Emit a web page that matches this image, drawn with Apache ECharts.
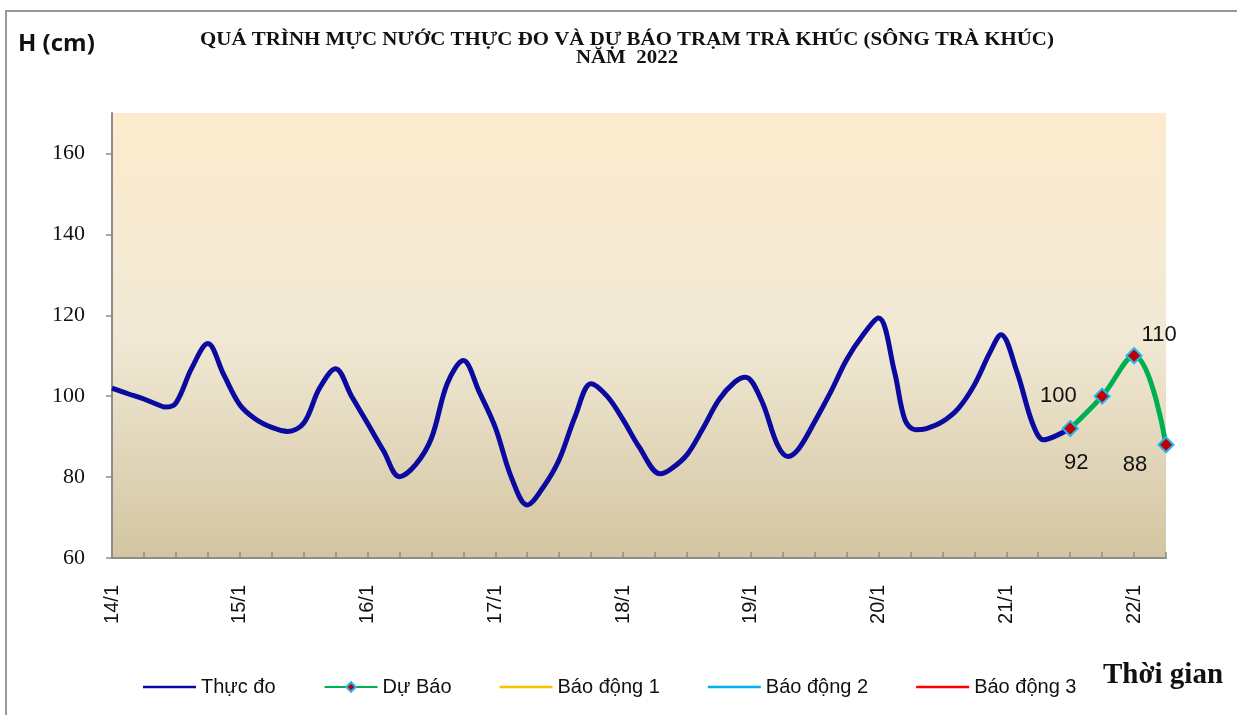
<!DOCTYPE html>
<html>
<head>
<meta charset="utf-8">
<script src="https://cdn.jsdelivr.net/npm/echarts@6/dist/echarts.min.js"></script>
<style>
  html, body { margin: 0; padding: 0; background: #fff; }
  #chart { width: 1237px; height: 715px; }
</style>
</head>
<body>
<div id="chart"></div>
<script>
// gio tinh tu 0h ngay 14/1
var dayLabels = ['14/1', '15/1', '16/1', '17/1', '18/1', '19/1', '20/1', '21/1', '22/1'];
var yTicks = [60, 80, 100, 120, 140, 160];

var obsHours = [0, 3, 6, 9, 10, 12, 15, 18, 21, 24, 27, 30, 33, 36, 39, 42, 45, 48, 51, 54, 57, 60,
  63, 66, 69, 72, 75, 78, 81, 84, 87, 90, 93, 96, 99, 103, 105, 108, 111, 114, 117, 119, 122, 125,
  127, 129, 132, 135, 138, 141, 144, 147, 149, 151, 153, 156, 159, 162, 165, 167, 170, 173, 175, 177, 180];
var obsValues = [102, 100.6, 99.3, 97.7, 97.3, 98.3, 107, 113, 105.3, 97.9, 94.3, 92.3, 91.3, 93.3, 102, 106.8, 100, 93.3, 86.5, 80.1, 83, 89.6,
  103.2, 108.8, 101, 92.3, 80, 73.1, 77.5, 84.3, 95, 103.1, 100, 94.2, 87.5, 80.8, 82, 85.5, 92, 99.1, 103.5, 104.7, 99, 88,
  85.1, 87, 93.7, 101, 109, 115, 119.3, 106, 94, 91.7, 92, 93.7, 97, 102.8, 111, 115.2, 106, 93, 89.2, 90, 92];

var fcHours = [180, 186, 192, 198];
var fcValues = [92, 100, 110, 88];

var titleLines = ['QUÁ TRÌNH MỰC NƯỚC THỰC ĐO VÀ DỰ BÁO TRẠM TRÀ KHÚC (SÔNG TRÀ KHÚC)', 'NĂM  2022'];

var obsData = obsHours.map(function (h, i) { return [h, obsValues[i]]; });
// vi tri nhan du bao
var fcLabels = [
  { position: 'bottom', offset: [6, 10] },
  { position: 'left', offset: [-12, 0] },
  { position: 'right', offset: [-6, -21] },
  { position: 'bottom', offset: [-31, -4] }
];
var fcData = fcHours.map(function (h, i) {
  return { value: [h, fcValues[i]], label: fcLabels[i] };
});

var lineIcon = 'path://M0,0 L53,0 L53,2.5 L0,2.5 Z';
var titleFont = 'bold 19px "Liberation Serif", serif';

var myChart = echarts.init(document.getElementById('chart'));

var option = {
  animation: false,
  graphic: [
    {
      type: 'polyline',
      shape: { points: [[6, 715], [6, 11], [1237, 11]] },
      style: { stroke: '#999', lineWidth: 2, fill: null }
    },
    {
      type: 'text', x: 627, y: 40, scaleX: 1.1,
      style: { text: titleLines[0], font: titleFont, fill: '#111', align: 'center', verticalAlign: 'middle' }
    },
    {
      type: 'text', x: 627, y: 58, scaleX: 1.1,
      style: { text: titleLines[1], font: titleFont, fill: '#111', align: 'center', verticalAlign: 'middle' }
    },
    {
      type: 'text', left: 18, top: 32,
      style: { text: 'H (cm)', font: 'bold 24px "Open Sans", sans-serif', fill: '#111' }
    },
    {
      type: 'text', left: 1103, top: 661,
      style: { text: 'Thời gian', font: 'bold 29px "Liberation Serif", serif', fill: '#111' }
    }
  ],
  legend: {
    left: 138,
    top: 672,
    itemWidth: 53,
    itemHeight: 12,
    itemGap: 48,
    textStyle: { fontFamily: '"Liberation Sans", Arial', fontSize: 20, color: '#111' },
    data: [
      { name: 'Thực đo', icon: lineIcon },
      { name: 'Dự Báo' },
      { name: 'Báo động 1', icon: lineIcon },
      { name: 'Báo động 2', icon: lineIcon },
      { name: 'Báo động 3', icon: lineIcon }
    ]
  },
  grid: {
    left: 112,
    right: 71,
    top: 113,
    bottom: 157,
    show: true,
    borderWidth: 0,
    backgroundColor: new echarts.graphic.LinearGradient(0, 0, 0, 1, [
      { offset: 0, color: '#fdebcd' },
      { offset: 0.5, color: '#f1e9d5' },
      { offset: 1, color: '#d3c5a1' }
    ])
  },
  xAxis: {
    type: 'value',
    min: 0,
    max: 198,
    interval: 6,
    splitLine: { show: false },
    axisLine: { lineStyle: { color: '#8c8c8c', width: 2 } },
    axisTick: { inside: true, length: 6, lineStyle: { color: '#8c8c8c', width: 1.5 } },
    axisLabel: {
      rotate: 90,
      margin: 27,
      fontFamily: '"Liberation Sans", Arial',
      fontSize: 20,
      color: '#111',
      customValues: dayLabels.map(function (d, i) { return i * 24; }),
      formatter: function (v) { return dayLabels[v / 24] || ''; }
    }
  },
  yAxis: {
    type: 'value',
    min: 60,
    max: 170,
    splitLine: { show: false },
    axisLine: { show: true, lineStyle: { color: '#8c8c8c', width: 2 } },
    axisTick: { show: true, length: 6, customValues: yTicks, lineStyle: { color: '#8c8c8c', width: 1.5 } },
    axisLabel: {
      margin: 27,
      customValues: yTicks,
      fontFamily: '"Liberation Serif", serif',
      fontSize: 22,
      color: '#111'
    }
  },
  series: [
    {
      name: 'Thực đo',
      type: 'line',
      data: obsData,
      smooth: 0.35,
      symbol: 'none',
      color: '#0a0aa0',
      lineStyle: { width: 5, color: '#0a0aa0' },
      z: 3
    },
    {
      name: 'Dự Báo',
      type: 'line',
      data: fcData,
      smooth: 0.4,
      symbol: 'diamond',
      symbolSize: 15,
      color: '#c00000',
      itemStyle: { color: '#c00000', borderColor: '#20b8f0', borderWidth: 2 },
      lineStyle: { width: 5, color: '#00b050' },
      label: {
        show: true,
        fontFamily: '"Liberation Sans", Arial',
        fontSize: 22,
        color: '#111'
      },
      z: 4
    },
    { name: 'Báo động 1', type: 'line', data: [], symbol: 'none', color: '#ffc000', lineStyle: { color: '#ffc000', width: 2 } },
    { name: 'Báo động 2', type: 'line', data: [], symbol: 'none', color: '#00b0f0', lineStyle: { color: '#00b0f0', width: 2 } },
    { name: 'Báo động 3', type: 'line', data: [], symbol: 'none', color: '#ff0000', lineStyle: { color: '#ff0000', width: 2 } }
  ]
};

myChart.setOption(option);
</script>
</body>
</html>
